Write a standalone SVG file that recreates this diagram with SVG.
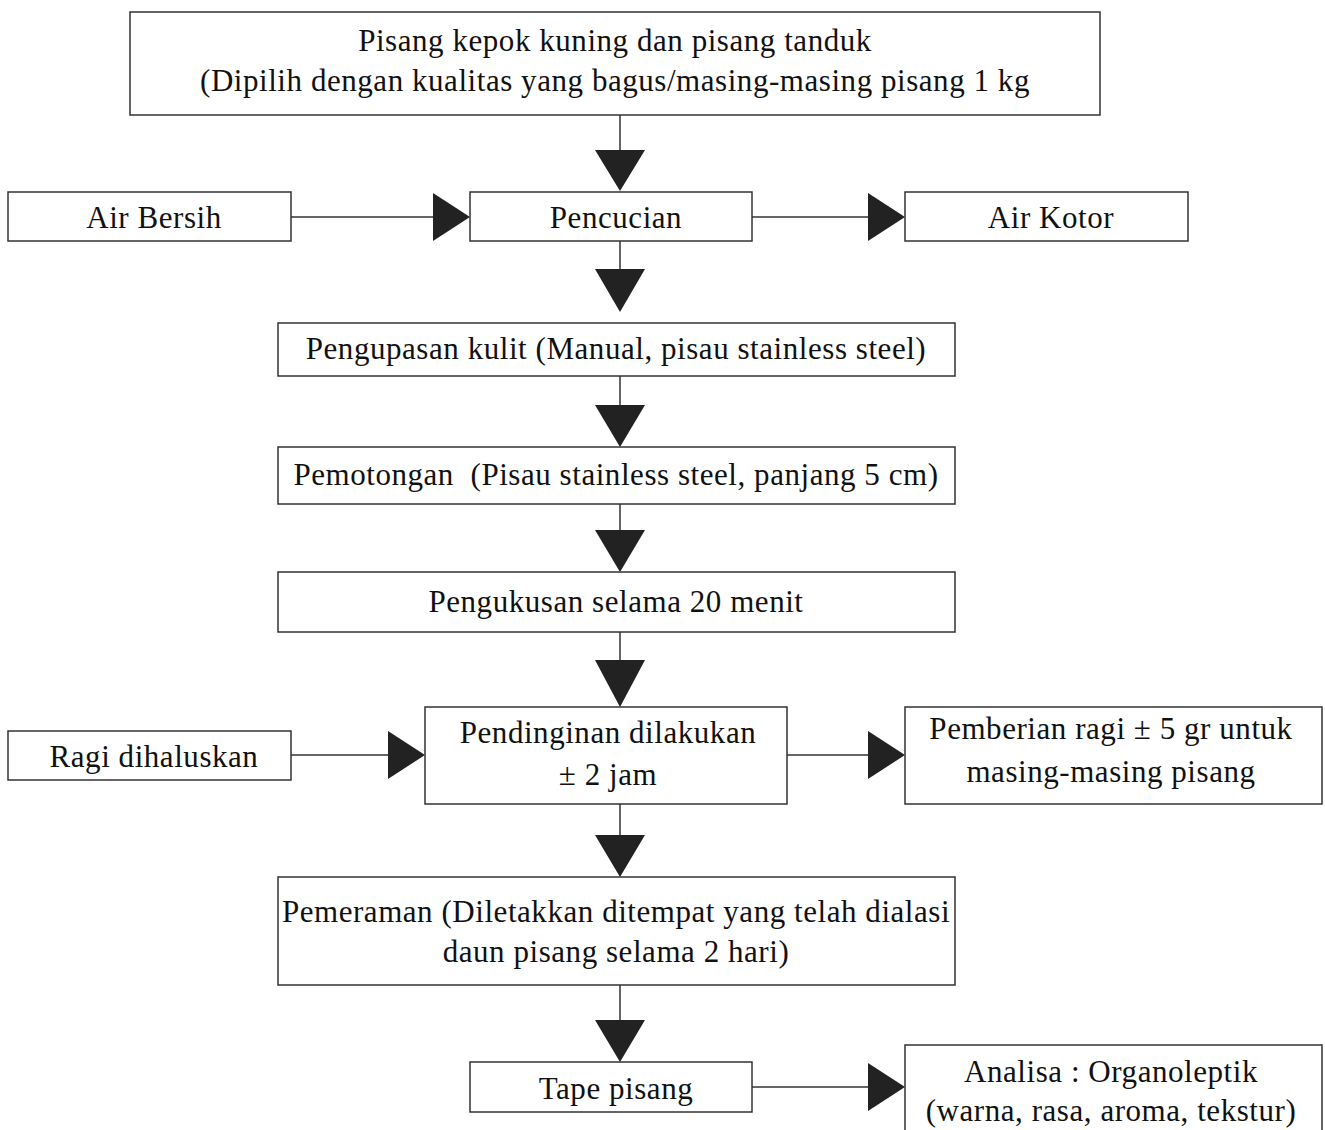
<svg xmlns="http://www.w3.org/2000/svg" width="1325" height="1130" viewBox="0 0 1325 1130">
<style>
.box{fill:#fff;stroke:#333;stroke-width:1.5}
.t{font-family:"Liberation Serif","Times New Roman",serif;font-size:31px;letter-spacing:0.55px;fill:#111;text-anchor:middle}
.ln{stroke:#333;stroke-width:1.5;fill:none}
.ah{fill:#222}
</style>
<rect width="1325" height="1130" fill="#fff"/>
<g id="connectors">
<line class="ln" x1="620" y1="115" x2="620" y2="150"/><polygon class="ah" points="595,150 645,150 620,191"/>
<line class="ln" x1="291" y1="217" x2="434" y2="217"/><polygon class="ah" points="433,193 433,241 470,217"/>
<line class="ln" x1="752" y1="217" x2="869" y2="217"/><polygon class="ah" points="868,193 868,241 905,217"/>
<line class="ln" x1="620" y1="241" x2="620" y2="270"/><polygon class="ah" points="595,269 645,269 620,312"/>
<line class="ln" x1="620" y1="376" x2="620" y2="406"/><polygon class="ah" points="595,405 645,405 620,447"/>
<line class="ln" x1="620" y1="504" x2="620" y2="531"/><polygon class="ah" points="595,530 645,530 620,572"/>
<line class="ln" x1="620" y1="632" x2="620" y2="661"/><polygon class="ah" points="595,660 645,660 620,707"/>
<line class="ln" x1="291" y1="755" x2="389" y2="755"/><polygon class="ah" points="388,731 388,779 425,755"/>
<line class="ln" x1="787" y1="755" x2="869" y2="755"/><polygon class="ah" points="868,731 868,779 905,755"/>
<line class="ln" x1="620" y1="804" x2="620" y2="836"/><polygon class="ah" points="595,835 645,835 620,877"/>
<line class="ln" x1="620" y1="985" x2="620" y2="1021"/><polygon class="ah" points="595,1020 645,1020 620,1062"/>
<line class="ln" x1="752" y1="1087" x2="869" y2="1087"/><polygon class="ah" points="868,1063 868,1111 905,1087"/>
</g>
<g id="n1"><rect class="box" x="130" y="12" width="970" height="103"/>
<text class="t" x="615" y="51">Pisang kepok kuning dan pisang tanduk</text>
<text class="t" x="615" y="91">(Dipilih dengan kualitas yang bagus/masing-masing pisang 1 kg</text></g>
<g id="n2"><rect class="box" x="8" y="192" width="283" height="49"/><text class="t" x="154" y="228">Air Bersih</text></g>
<g id="n3"><rect class="box" x="470" y="192" width="282" height="49"/><text class="t" x="616" y="228">Pencucian</text></g>
<g id="n4"><rect class="box" x="905" y="192" width="283" height="49"/><text class="t" x="1051" y="228">Air Kotor</text></g>
<g id="n5"><rect class="box" x="278" y="323" width="677" height="53"/><text class="t" x="616" y="359">Pengupasan kulit (Manual, pisau stainless steel)</text></g>
<g id="n6"><rect class="box" x="278" y="447" width="677" height="57"/><text class="t" x="616" y="485" xml:space="preserve">Pemotongan  (Pisau stainless steel, panjang 5 cm)</text></g>
<g id="n7"><rect class="box" x="278" y="572" width="677" height="60"/><text class="t" x="616" y="612">Pengukusan selama 20 menit</text></g>
<g id="n8"><rect class="box" x="8" y="731" width="283" height="49"/><text class="t" x="154" y="767">Ragi dihaluskan</text></g>
<g id="n9"><rect class="box" x="425" y="707" width="362" height="97"/>
<text class="t" x="608" y="743">Pendinginan dilakukan</text><text class="t" x="608" y="785">± 2 jam</text></g>
<g id="n10"><rect class="box" x="905" y="707" width="417" height="97"/>
<text class="t" x="1111" y="739">Pemberian ragi ± 5 gr untuk</text><text class="t" x="1111" y="782">masing-masing pisang</text></g>
<g id="n11"><rect class="box" x="278" y="877" width="677" height="108"/>
<text class="t" x="616" y="922">Pemeraman (Diletakkan ditempat yang telah dialasi</text><text class="t" x="616" y="962">daun pisang selama 2 hari)</text></g>
<g id="n12"><rect class="box" x="470" y="1062" width="282" height="50"/><text class="t" x="616" y="1099">Tape pisang</text></g>
<g id="n13"><rect class="box" x="905" y="1045" width="417" height="95"/>
<text class="t" x="1111" y="1082">Analisa : Organoleptik</text><text class="t" x="1111" y="1121">(warna, rasa, aroma, tekstur)</text></g>
</svg>
